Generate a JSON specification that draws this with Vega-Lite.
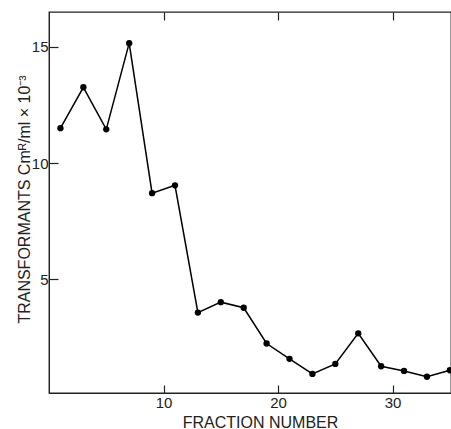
{
  "$schema": "https://vega.github.io/schema/vega-lite/v6.json",
  "width": 402,
  "height": 381,
  "autosize": {"type": "none"},
  "padding": {"left": 49, "top": 12, "right": 0, "bottom": 36},
  "background": "white",
  "config": {
    "view": {"stroke": "#222", "strokeWidth": 1.3},
    "axis": {
      "labelFont": "Liberation Sans",
      "titleFont": "Liberation Sans",
      "labelColor": "#222",
      "titleColor": "#222",
      "tickColor": "#222",
      "domainColor": "#222",
      "grid": false,
      "labelFontSize": 15,
      "titleFontSize": 16,
      "titleFontWeight": "normal",
      "tickWidth": 1.2
    }
  },
  "data": {
    "values": [
      {"fraction": 1, "transformants": 11.5},
      {"fraction": 3, "transformants": 13.26},
      {"fraction": 5, "transformants": 11.45},
      {"fraction": 7, "transformants": 15.16},
      {"fraction": 9, "transformants": 8.7},
      {"fraction": 11, "transformants": 9.04},
      {"fraction": 13, "transformants": 3.56},
      {"fraction": 15, "transformants": 4.01},
      {"fraction": 17, "transformants": 3.77},
      {"fraction": 19, "transformants": 2.23},
      {"fraction": 21, "transformants": 1.57},
      {"fraction": 23, "transformants": 0.92},
      {"fraction": 25, "transformants": 1.35},
      {"fraction": 27, "transformants": 2.67},
      {"fraction": 29, "transformants": 1.25},
      {"fraction": 31, "transformants": 1.05},
      {"fraction": 33, "transformants": 0.8},
      {"fraction": 35, "transformants": 1.08}
    ]
  },
  "resolve": {"axis": {"x": "independent"}},
  "layer": [
    {
      "mark": {"type": "line", "color": "black", "strokeWidth": 1.5},
      "encoding": {
        "x": {
          "field": "fraction", "type": "quantitative",
          "scale": {"domain": [0, 35.1], "nice": false, "zero": false},
          "axis": {
            "orient": "bottom", "values": [10, 20, 30], "tickSize": -8,
            "labelPadding": 10, "domain": true, "title": "FRACTION NUMBER",
            "titleX": 211, "titleY": 34, "titleAlign": "center", "titleBaseline": "alphabetic"
          }
        },
        "y": {
          "field": "transformants", "type": "quantitative",
          "scale": {"domain": [0.1, 16.5], "nice": false, "zero": false},
          "axis": {
            "values": [5, 10, 15], "tickSize": -9, "labelPadding": 10,
            "title": "TRANSFORMANTS  Cmᴿ/ml × 10⁻³",
            "titleAngle": -90, "titleX": -20, "titleY": 187,
            "titleAlign": "center", "titleBaseline": "alphabetic"
          }
        }
      }
    },
    {
      "mark": {"type": "point", "filled": true, "color": "black", "size": 40, "opacity": 1},
      "encoding": {
        "x": {
          "field": "fraction", "type": "quantitative",
          "axis": {
            "orient": "top", "values": [10, 20, 30], "tickSize": -8,
            "labels": false, "domain": false, "title": null
          }
        },
        "y": {"field": "transformants", "type": "quantitative"}
      }
    }
  ]
}
